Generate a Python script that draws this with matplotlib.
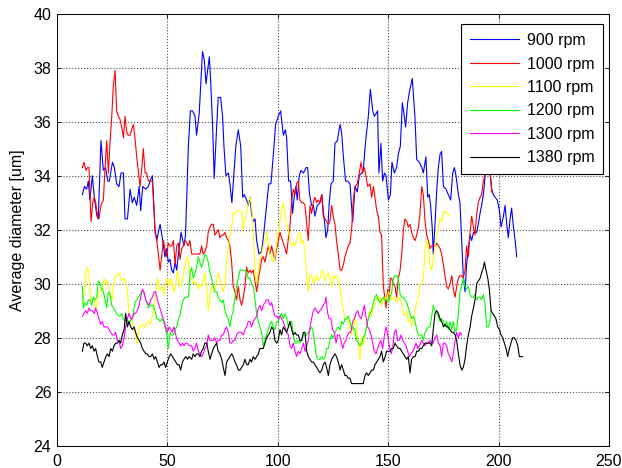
import matplotlib
matplotlib.use('Agg')
import matplotlib.pyplot as plt

# (x, diametro)
s900 = [(11.5,33.3),(12.4,33.6),(13.4,33.5),(14.2,33.8),(14.9,33.1),(16.0,34.0),(16.9,33.2),(18.1,32.5),(18.7,32.4),(19.9,35.3),(21.0,34.2),(22.0,34.3),(23.0,33.8),(23.7,33.8),(25.1,34.5),(26.0,34.3),(27.0,33.7),(28.1,33.6),(29.0,34.1),(30.1,34.1),(30.8,32.4),(31.9,32.4),(33.1,33.5),(34.1,33.0),(35.0,33.2),(36.1,32.9),(37.2,33.6),(37.9,32.7),(38.8,33.6),(40.2,33.5),(41.4,33.6),(42.1,33.8),(43.2,34.0),(44.4,32.0),(45.2,31.6),(45.9,31.9),(46.7,32.2),(47.7,31.7),(48.9,31.0),(49.7,31.3),(50.4,30.8),(51.2,30.9),(51.9,30.5),(52.7,30.4),(53.5,30.8),(54.2,30.5),(55.0,31.1),(56.2,31.9),(57.5,31.4),(58.2,31.8),(59.5,35.1),(60.4,36.4),(61.4,36.4),(62.5,36.2),(63.2,35.5),(64.4,36.3),(65.0,37.2),(65.9,38.6),(66.7,38.3),(67.5,37.4),(68.2,37.9),(69.0,38.4),(69.6,37.5),(70.5,35.8),(71.2,33.9),(72.3,35.8),(73.0,36.9),(74.1,36.9),(75.0,36.2),(75.6,35.1),(76.5,34.0),(77.6,34.1),(78.3,33.7),(79.2,33.0),(80.3,34.3),(81.0,35.1),(82.1,35.7),(83.2,35.1),(84.1,33.2),(84.8,33.3),(85.9,33.1),(86.6,32.9),(87.4,33.2),(88.1,32.6),(88.9,32.3),(89.7,32.4),(90.4,31.6),(91.5,31.1),(92.7,31.2),(93.7,31.9),(94.9,32.9),(95.9,33.7),(96.9,33.7),(98.0,34.8),(99.0,35.9),(100.2,36.2),(101.3,36.4),(102.5,35.5),(103.4,35.7),(104.0,35.4),(104.9,33.8),(105.8,33.8),(106.7,32.6),(107.5,33.3),(108.2,33.6),(108.8,33.1),(109.7,34.0),(110.5,34.2),(111.6,34.1),(112.8,34.3),(113.5,34.3),(114.4,33.3),(115.3,32.9),(116.1,32.9),(116.8,32.5),(117.9,32.9),(119.1,33.0),(119.9,33.3),(120.6,32.7),(121.4,32.1),(121.8,31.7),(122.6,32.0),(123.3,33.0),(124.1,33.7),(125.1,33.8),(125.9,35.2),(127.0,35.3),(128.2,35.9),(128.9,35.6),(129.7,34.7),(130.7,33.8),(131.6,33.8),(132.7,33.7),(133.9,32.3),(135.0,33.6),(136.0,33.4),(136.9,34.0),(138.0,34.1),(138.7,34.2),(139.8,35.3),(141.0,36.2),(141.9,37.2),(143.0,36.4),(143.7,36.2),(144.5,36.3),(145.2,36.4),(145.8,34.1),(146.7,35.2),(147.5,33.8),(148.3,34.1),(149.0,34.0),(150.1,33.1),(151.0,33.3),(151.7,34.5),(152.8,34.1),(153.8,34.3),(154.6,34.8),(155.5,35.1),(156.4,36.7),(157.3,36.2),(157.9,35.8),(158.8,36.7),(159.6,37.1),(160.9,37.6),(162.1,36.2),(162.9,34.6),(164.1,34.5),(165.2,34.3),(165.9,34.1),(167.1,34.7),(167.9,33.2),(168.6,33.3),(169.2,32.9),(170.0,32.0),(170.4,31.1),(171.2,32.2),(172.0,33.5),(172.7,34.3),(173.5,34.8),(174.2,34.9),(175.0,33.6),(176.2,33.5),(177.2,33.3),(178.3,33.1),(179.2,34.1),(180.0,34.3),(180.7,34.0),(181.8,33.3),(182.5,33.0),(183.3,31.6),(184.0,30.3),(184.8,29.7),(185.5,30.7),(186.3,31.3),(187.1,31.8),(187.8,31.6),(188.6,31.9),(189.3,31.9),(190.1,31.9),(190.8,32.2),(191.6,32.6),(192.3,32.9),(193.1,33.3),(193.9,34.0),(194.6,34.6),(195.4,34.8),(196.1,34.1),(196.9,33.5),(197.6,33.3),(198.4,33.2),(199.4,33.1),(200.4,32.7),(201.1,32.1),(202.2,32.5),(202.9,32.9),(203.7,32.2),(204.4,31.7),(205.2,32.4),(205.9,32.8),(206.7,32.1),(207.5,31.6),(208.2,31.0)]

s1000 = [(11.5,34.3),(12.2,34.5),(13.1,34.2),(13.9,34.3),(14.5,34.3),(15.4,32.3),(16.2,33.0),(16.9,33.2),(17.5,33.0),(18.4,32.5),(19.0,32.4),(19.9,32.9),(21.0,33.1),(21.7,34.2),(22.5,35.3),(23.3,34.1),(24.0,35.2),(24.8,36.2),(25.5,37.3),(26.3,37.9),(27.0,36.4),(27.8,36.2),(28.5,36.1),(29.3,35.8),(30.1,35.4),(30.8,36.2),(31.6,35.6),(32.3,35.5),(33.1,35.5),(33.8,35.7),(34.6,35.9),(35.3,35.4),(36.1,34.7),(36.9,34.1),(37.6,33.6),(38.4,34.3),(39.1,35.0),(39.9,34.1),(40.6,34.1),(41.4,33.8),(42.1,33.8),(43.2,33.8),(43.7,33.1),(44.4,31.9),(45.2,31.6),(45.9,31.1),(46.7,30.5),(47.4,31.0),(48.2,31.6),(48.9,31.3),(49.7,31.0),(50.4,31.5),(51.2,31.4),(52.0,31.4),(52.7,31.6),(53.5,30.7),(54.2,31.4),(55.0,31.5),(55.7,30.9),(56.5,31.3),(57.2,31.4),(58.0,31.6),(58.8,31.5),(59.5,31.4),(60.2,31.6),(61.0,31.1),(61.7,31.1),(62.9,31.1),(64.0,31.1),(64.7,31.1),(65.5,31.4),(66.2,31.1),(67.0,31.2),(67.8,31.4),(68.5,31.9),(69.3,32.1),(70.0,32.2),(70.8,32.2),(71.5,31.8),(72.3,31.9),(73.0,32.0),(73.8,31.7),(74.6,31.8),(75.3,31.8),(76.1,31.9),(76.8,31.7),(77.6,31.6),(78.3,31.4),(79.1,30.8),(79.8,29.9),(80.6,29.7),(81.3,29.4),(82.1,29.9),(82.9,29.4),(83.6,29.2),(84.4,29.5),(85.1,29.9),(85.9,30.6),(86.6,30.4),(87.4,30.5),(88.1,30.4),(88.9,30.5),(89.7,30.1),(90.4,29.7),(91.2,30.2),(91.9,30.5),(92.7,30.9),(93.4,31.0),(94.2,30.8),(94.9,31.1),(95.7,31.4),(96.5,31.1),(97.2,31.4),(98.0,31.1),(98.7,30.9),(99.5,31.3),(100.2,31.6),(101.0,31.9),(101.7,31.7),(102.5,31.5),(103.3,31.3),(104.0,31.1),(104.8,31.7),(105.5,32.1),(106.3,33.1),(107.0,33.5),(107.8,33.3),(108.5,33.7),(109.3,33.8),(110.0,33.1),(110.8,33.0),(111.6,33.0),(112.3,32.9),(113.1,32.2),(113.8,31.6),(114.6,32.9),(115.3,32.6),(116.1,33.0),(116.8,33.2),(117.6,33.0),(118.3,33.1),(119.1,33.0),(119.9,33.3),(120.6,32.5),(121.4,32.4),(122.1,32.3),(122.9,32.2),(123.6,32.3),(124.4,32.9),(125.1,32.5),(125.9,32.2),(126.6,31.6),(127.4,31.1),(128.2,30.5),(128.9,30.5),(129.7,30.7),(130.4,31.0),(131.2,31.2),(131.9,31.4),(132.7,31.5),(133.5,32.1),(134.2,33.1),(135.0,33.6),(136.0,33.7),(136.9,34.1),(137.7,34.5),(138.4,34.1),(139.2,34.3),(139.9,34.0),(140.7,33.6),(141.8,33.7),(142.5,33.2),(143.3,33.6),(144.0,33.2),(144.8,32.7),(145.5,32.5),(146.3,31.9),(147.0,31.8),(147.8,29.9),(148.6,29.4),(149.0,29.1),(149.8,29.8),(150.4,29.5),(151.0,30.2),(151.6,30.2),(152.3,30.0),(153.1,29.9),(153.8,29.5),(154.6,30.2),(155.4,30.5),(156.1,31.1),(156.9,32.0),(157.6,32.4),(158.4,32.3),(159.1,32.1),(159.9,32.2),(160.6,31.9),(161.4,31.7),(162.2,31.6),(162.9,31.8),(163.7,32.1),(164.4,32.6),(165.2,33.6),(165.9,33.3),(166.7,32.3),(167.4,31.8),(168.2,31.6),(169.0,31.3),(169.7,31.4),(170.4,31.4),(171.2,31.4),(172.0,31.5),(172.7,31.4),(173.5,31.3),(174.2,31.1),(175.0,30.7),(175.7,30.3),(176.5,29.9),(177.2,29.8),(178.0,30.0),(178.8,30.3),(179.5,29.8),(180.3,29.5),(181.0,29.9),(181.8,30.2),(182.5,30.3),(183.3,30.3),(184.0,30.2),(184.8,30.5),(185.5,31.4),(186.3,31.0),(187.1,31.9),(187.8,32.5),(188.6,32.1),(189.3,31.8),(190.1,32.6),(190.8,33.0),(191.6,33.2),(192.3,33.3),(193.1,33.8),(193.9,34.1),(194.6,34.6),(195.4,34.8),(196.1,34.2),(196.9,33.4)]

s1100 = [(11.5,29.3),(12.4,29.7),(13.0,30.4),(13.7,30.6),(14.5,30.4),(15.3,29.4),(16.0,29.4),(16.8,29.4),(17.5,29.0),(18.3,29.3),(19.0,29.6),(19.8,29.8),(20.5,29.7),(21.3,30.2),(22.1,30.0),(22.8,30.1),(23.6,29.7),(24.3,29.6),(25.1,29.4),(25.8,30.0),(26.6,30.3),(27.3,30.3),(28.1,30.4),(28.8,30.2),(29.6,30.1),(30.4,30.2),(31.1,30.0),(31.9,29.7),(32.6,28.9),(33.4,28.8),(34.1,28.6),(34.9,28.3),(35.6,28.1),(36.4,27.8),(37.2,28.4),(37.9,28.4),(38.7,28.5),(39.4,28.4),(40.2,28.4),(40.9,28.6),(41.7,28.6),(42.4,28.5),(43.2,28.8),(44.0,29.2),(44.7,29.7),(45.5,30.2),(46.2,29.8),(47.0,29.8),(47.7,29.9),(48.5,29.6),(49.2,30.0),(50.0,30.2),(50.8,29.9),(51.5,30.2),(52.3,29.9),(53.0,29.7),(53.8,30.0),(54.5,30.5),(55.3,30.0),(56.0,29.9),(56.8,30.1),(57.5,30.5),(58.3,30.8),(59.1,31.0),(59.8,30.6),(60.2,30.2),(61.0,30.2),(61.7,30.0),(62.5,30.1),(63.2,29.9),(64.0,29.8),(64.7,30.0),(65.5,29.9),(66.2,30.1),(67.0,30.4),(67.8,29.8),(68.5,29.0),(69.3,29.5),(70.0,29.9),(70.8,30.0),(71.5,29.7),(72.3,30.1),(73.0,30.4),(73.8,30.2),(74.6,29.9),(75.3,29.7),(76.1,30.0),(76.8,30.8),(77.6,31.3),(78.3,31.8),(79.1,32.1),(79.8,32.6),(80.6,32.6),(81.3,32.7),(82.1,32.7),(82.9,32.7),(83.6,32.7),(84.4,32.0),(85.1,32.4),(85.9,32.6),(86.6,33.0),(87.4,33.2),(88.1,32.9),(88.9,32.1),(89.7,30.3),(90.4,30.0),(91.2,30.5),(91.9,30.9),(92.7,31.1),(93.4,31.4),(94.2,31.6),(94.9,31.9),(95.7,31.5),(96.5,31.1),(97.2,30.9),(98.0,30.8),(98.7,31.0),(99.5,31.5),(100.2,31.9),(101.7,32.7),(102.5,33.0),(103.3,32.6),(104.0,32.1),(104.8,32.0),(105.5,31.6),(106.3,31.4),(107.0,31.5),(107.8,31.4),(108.5,31.6),(109.3,31.8),(110.0,31.9),(110.8,31.5),(111.6,31.6),(112.3,31.1),(113.1,30.3),(113.8,29.7),(114.6,30.3),(115.3,30.3),(116.1,30.0),(116.8,30.2),(117.6,30.3),(118.3,30.1),(119.1,30.2),(119.9,30.5),(120.6,30.4),(121.4,30.1),(122.1,30.3),(122.9,30.4),(123.6,30.2),(124.4,29.9),(125.1,30.3),(125.9,30.2),(126.6,30.3),(127.4,30.1),(128.2,29.8),(128.9,29.4),(129.7,29.0),(130.4,28.7),(131.2,28.7),(131.9,28.6),(132.7,28.3),(133.4,28.1),(134.2,28.4),(135.0,28.8),(135.7,28.2),(136.5,27.8),(137.2,27.2),(138.0,28.1),(138.7,27.7),(139.5,28.1),(140.2,28.4),(141.0,28.8),(141.8,29.0),(142.5,28.8),(143.3,29.1),(144.0,29.2),(144.8,29.5),(145.5,29.4),(146.3,29.5),(147.0,29.2),(147.8,29.4),(148.6,29.5),(149.3,29.4),(150.1,29.7),(150.8,29.6),(151.6,29.4),(152.3,29.5),(153.1,29.5),(153.8,29.3),(154.6,29.5),(155.4,29.4),(156.1,29.3),(156.9,28.9),(157.6,28.8),(158.4,29.0),(159.1,28.6),(159.9,28.7),(160.6,28.4),(161.4,28.7),(162.2,29.0),(162.9,29.3),(163.7,29.5),(164.4,30.0),(165.2,30.0),(165.9,30.2),(166.7,31.3),(167.4,31.6),(168.2,31.3),(168.9,30.7),(169.7,30.5),(170.4,30.9),(171.2,31.4),(172.0,31.8),(172.7,32.1),(173.5,32.4),(174.2,32.3),(175.0,32.6),(175.7,32.7),(176.5,32.6),(177.2,32.6),(178.0,32.5)]

s1200 = [(11.5,29.9),(11.9,29.1),(12.7,29.3),(13.4,29.2),(14.2,29.4),(14.9,29.4),(15.7,29.2),(16.5,29.5),(17.2,29.4),(18.0,29.5),(18.7,30.1),(19.5,30.0),(20.2,29.8),(21.0,29.7),(21.8,29.4),(22.5,29.1),(23.3,29.7),(24.0,29.6),(24.8,29.2),(25.5,29.1),(26.3,29.0),(27.0,28.9),(27.8,28.8),(28.5,28.8),(29.3,28.9),(30.1,28.7),(30.8,28.6),(31.6,28.7),(32.3,28.6),(33.1,28.6),(33.8,28.7),(34.6,28.9),(35.3,29.3),(36.1,29.4),(36.9,29.5),(37.6,29.6),(38.4,29.7),(39.1,29.7),(39.9,29.5),(40.6,29.3),(41.4,29.1),(42.1,29.2),(42.9,29.2),(43.6,29.2),(44.4,29.0),(45.2,28.7),(45.9,28.7),(46.7,28.6),(47.4,28.7),(48.2,28.6),(48.9,28.4),(49.7,28.1),(50.4,27.6),(51.2,28.2),(52.0,28.1),(52.7,28.1),(53.5,28.3),(54.2,28.4),(55.0,28.7),(55.7,28.8),(56.5,29.2),(57.2,29.4),(58.0,29.5),(58.8,29.5),(59.5,29.5),(60.3,30.4),(61.0,30.6),(61.7,30.2),(62.5,30.4),(63.2,30.6),(64.0,31.0),(64.7,30.8),(65.5,30.6),(66.2,30.8),(67.0,31.1),(67.8,31.0),(68.5,30.8),(69.3,30.4),(70.0,30.2),(70.8,29.9),(71.5,29.7),(72.3,29.7),(73.0,29.5),(73.8,29.4),(74.6,29.3),(75.3,29.4),(76.1,29.0),(76.8,28.8),(77.6,28.7),(78.3,28.4),(79.1,28.8),(79.8,29.0),(80.6,29.5),(81.3,29.9),(82.1,30.2),(82.9,30.5),(83.6,30.5),(84.4,30.5),(85.1,30.5),(85.9,30.4),(86.6,30.2),(87.4,30.2),(88.1,30.0),(88.9,29.9),(89.7,29.4),(90.4,28.9),(91.2,28.6),(91.9,28.4),(92.7,28.2),(93.4,27.7),(94.2,27.9),(94.9,28.1),(95.7,28.3),(96.5,28.5),(97.2,28.6),(98.0,28.4),(98.7,28.3),(99.5,28.6),(100.2,28.6),(101.0,28.8),(101.7,28.9),(102.5,28.7),(103.3,28.9),(104.0,28.7),(104.8,28.4),(105.5,28.6),(106.3,28.6),(107.0,28.1),(107.8,27.8),(108.5,27.8),(109.3,27.9),(110.0,27.8),(110.8,27.9),(111.6,28.1),(112.3,28.1),(113.1,28.1),(113.8,28.2),(114.6,28.3),(115.3,28.4),(116.1,28.2),(116.8,27.7),(117.6,27.3),(118.3,27.2),(119.1,27.2),(119.9,27.3),(120.6,27.2),(121.4,27.3),(122.1,27.6),(122.9,27.6),(123.6,27.9),(124.4,28.1),(125.1,28.0),(125.9,28.2),(126.6,28.3),(127.4,28.4),(128.2,28.3),(128.9,28.6),(129.7,28.5),(130.4,28.7),(131.2,28.7),(131.9,28.8),(132.7,28.6),(133.4,28.3),(134.2,28.4),(135.0,28.2),(135.7,27.9),(136.5,27.8),(137.2,27.7),(138.0,27.8),(138.7,28.0),(139.5,28.1),(140.2,28.4),(141.0,28.7),(141.8,28.9),(142.5,29.0),(143.3,29.3),(144.0,29.5),(144.8,29.6),(145.5,29.4),(146.3,29.3),(147.0,29.4),(147.8,29.5),(148.6,29.4),(149.3,29.4),(150.1,29.3),(150.8,29.5),(151.6,29.7),(152.3,30.2),(153.1,30.3),(153.8,30.3),(154.6,30.2),(155.4,29.6),(156.1,29.5),(156.9,29.5),(157.6,29.4),(158.4,29.3),(159.1,29.1),(159.9,28.9),(160.6,28.7),(161.4,28.8),(162.2,28.6),(162.9,28.3),(163.7,28.1),(164.4,28.1),(165.2,28.1),(165.9,27.9),(166.7,28.2),(167.4,28.3),(168.2,28.4),(168.9,28.4),(169.7,28.8),(170.4,29.2),(171.2,29.0),(172.0,28.9),(172.7,28.8),(173.5,28.6),(174.2,28.7),(175.0,28.6),(175.7,28.4),(176.5,28.6),(177.2,28.3),(178.0,28.6),(178.8,28.3),(179.5,28.6),(180.3,28.2),(181.0,28.3),(181.8,28.9),(182.5,29.7),(183.3,29.9),(184.0,30.2),(184.8,29.9),(185.5,29.8),(186.3,29.9),(187.1,29.6),(187.8,29.5),(188.6,29.5),(189.3,29.6),(190.1,29.4),(190.8,29.5),(191.6,29.5),(192.3,29.4),(193.1,29.6),(193.9,29.2),(194.6,28.4),(195.4,28.4),(196.1,28.6),(196.6,29.0)]

s1300 = [(11.5,28.8),(12.2,28.9),(13.0,29.0),(13.7,28.9),(14.5,29.1),(15.3,29.0),(16.0,29.0),(16.8,28.9),(17.5,29.1),(18.3,28.9),(19.0,28.7),(19.8,28.5),(20.5,28.6),(21.3,28.4),(22.1,28.4),(22.8,28.4),(23.6,28.3),(24.3,28.2),(25.1,28.1),(25.8,28.1),(26.6,28.2),(27.3,27.9),(28.1,27.9),(28.8,27.6),(29.6,27.7),(30.4,28.0),(31.1,28.4),(31.9,28.7),(32.6,28.9),(33.4,28.7),(34.1,28.7),(34.9,28.9),(35.6,28.9),(36.4,29.0),(37.2,29.2),(37.9,29.5),(38.7,29.8),(39.4,29.7),(40.2,29.4),(40.9,29.3),(41.7,29.2),(42.4,29.4),(43.2,29.5),(44.0,29.7),(44.7,29.7),(45.5,29.4),(46.2,29.2),(47.0,29.0),(47.7,28.8),(48.5,28.6),(49.2,28.4),(50.0,28.2),(50.8,28.4),(51.5,28.3),(52.3,28.2),(53.0,28.4),(53.8,28.1),(54.5,27.9),(55.3,27.8),(56.0,27.7),(56.8,27.8),(57.5,27.7),(58.3,27.8),(59.0,27.8),(59.8,27.7),(61.0,27.7),(61.7,27.5),(62.5,27.6),(63.2,27.8),(64.0,27.5),(64.7,27.4),(65.5,27.3),(66.2,27.4),(67.0,27.6),(67.8,27.7),(68.5,28.1),(69.3,27.9),(70.0,27.9),(70.8,27.9),(71.5,28.0),(72.3,27.8),(73.0,27.9),(73.8,27.9),(74.6,28.1),(75.3,28.1),(76.1,28.3),(76.8,28.4),(77.6,28.2),(78.3,27.8),(79.1,27.8),(79.8,27.9),(80.6,27.9),(81.3,28.1),(82.1,28.2),(82.9,28.2),(83.6,28.2),(84.4,28.1),(85.1,28.3),(85.9,28.4),(86.6,28.6),(87.4,28.6),(88.1,28.4),(88.9,28.6),(89.7,28.7),(90.4,28.8),(91.2,29.1),(91.9,29.2),(92.7,29.0),(93.4,29.2),(94.2,29.3),(94.9,29.4),(95.7,29.4),(96.5,29.2),(97.2,29.3),(98.0,29.0),(98.7,28.8),(99.5,28.8),(100.2,28.7),(101.0,28.8),(101.7,28.7),(102.5,28.6),(103.3,28.4),(104.0,28.2),(104.8,28.1),(105.5,27.7),(106.3,27.6),(107.0,27.8),(107.8,27.5),(108.5,27.3),(109.3,27.5),(110.0,27.4),(110.8,27.6),(111.6,27.8),(112.3,27.5),(113.1,27.7),(113.8,27.9),(114.6,28.4),(115.3,28.7),(116.1,29.0),(116.8,29.1),(117.6,29.0),(118.3,28.9),(119.1,29.0),(119.9,29.1),(120.6,29.2),(121.4,29.3),(121.8,29.5),(122.6,28.9),(123.3,28.7),(124.1,28.7),(124.8,28.3),(125.6,28.2),(126.4,27.8),(127.1,28.1),(127.9,28.1),(128.6,27.9),(129.4,27.6),(130.1,27.8),(130.9,27.9),(131.6,28.1),(132.4,28.2),(133.1,28.2),(133.9,28.6),(134.7,28.7),(135.4,28.9),(136.2,29.0),(136.9,28.8),(137.7,28.7),(138.4,28.9),(139.2,29.2),(139.9,28.8),(140.7,28.4),(141.5,28.3),(142.2,28.1),(143.0,27.8),(143.7,27.5),(144.5,27.4),(145.2,27.6),(146.0,27.8),(146.7,27.9),(147.5,27.6),(148.3,28.1),(149.0,28.4),(149.8,28.1),(150.5,27.7),(151.3,27.4),(152.0,27.6),(152.8,28.2),(153.5,28.3),(154.3,27.9),(155.1,27.9),(155.8,28.1),(156.6,27.9),(157.3,27.8),(158.1,27.7),(158.8,27.5),(159.6,27.3),(160.3,27.4),(161.1,27.5),(161.8,27.6),(162.6,27.8),(163.4,27.6),(164.1,27.7),(165.2,27.9),(165.9,27.8),(166.7,27.7),(167.4,27.8),(168.2,27.8),(168.9,27.9),(169.7,27.8),(170.4,27.8),(171.2,28.0),(172.0,28.1),(172.7,27.8),(173.5,27.7),(174.2,27.3),(175.0,27.8),(175.7,27.8),(176.5,27.7),(177.2,27.4),(178.0,27.3),(178.8,27.1),(179.5,27.4),(180.3,27.9),(181.0,28.2),(181.8,28.0),(182.5,28.2),(183.3,28.1)]

s1380 = [(11.5,27.5),(12.2,27.8),(13.0,27.8),(13.7,27.7),(14.5,27.8),(15.3,27.6),(16.0,27.7),(16.8,27.5),(17.5,27.6),(18.3,27.3),(19.0,27.1),(19.8,27.1),(20.5,26.9),(21.3,27.1),(22.1,27.3),(22.8,27.4),(23.6,27.3),(24.3,27.6),(25.1,27.5),(25.8,27.7),(26.6,27.8),(27.3,27.8),(28.1,27.9),(28.8,27.8),(29.6,28.1),(30.4,28.3),(31.1,28.9),(31.9,28.4),(32.6,28.6),(33.4,28.4),(34.1,28.3),(34.9,28.4),(35.6,28.2),(36.4,28.0),(37.2,27.9),(37.9,27.8),(38.7,27.6),(39.4,27.5),(40.2,27.4),(40.9,27.4),(41.7,27.3),(42.4,27.3),(43.2,27.4),(44.0,27.2),(44.7,27.3),(45.5,27.1),(46.2,26.9),(47.0,27.0),(47.7,27.0),(48.5,27.1),(49.2,26.9),(50.0,27.1),(50.8,27.3),(51.5,27.4),(52.3,27.3),(53.0,27.2),(53.8,27.1),(54.5,27.0),(55.3,27.0),(56.0,26.8),(56.8,27.1),(57.5,27.2),(58.3,27.3),(59.1,27.2),(59.8,27.3),(61.0,27.2),(61.7,27.4),(62.5,27.3),(63.2,27.4),(64.0,27.4),(64.7,27.3),(65.5,27.5),(66.2,27.6),(67.0,27.8),(67.8,27.8),(68.5,27.5),(69.3,27.2),(70.0,27.4),(70.8,27.6),(71.5,27.7),(72.3,27.8),(73.0,27.5),(73.8,27.4),(74.6,27.2),(75.3,26.9),(76.1,26.6),(76.8,27.1),(77.6,27.2),(78.3,27.3),(79.1,27.4),(79.8,27.3),(80.6,27.1),(81.3,27.0),(82.1,26.8),(82.9,26.8),(83.6,26.9),(84.4,27.0),(85.1,27.2),(85.9,27.0),(86.6,27.0),(87.4,27.2),(88.1,27.1),(88.9,27.3),(89.7,27.2),(90.4,27.3),(91.2,27.4),(91.9,27.6),(92.7,27.6),(93.4,27.6),(94.2,27.8),(94.9,28.0),(95.7,28.1),(96.5,28.2),(97.2,28.4),(98.0,28.3),(98.7,27.9),(99.5,27.8),(100.2,27.9),(101.0,28.3),(101.7,28.1),(102.5,28.4),(103.3,28.3),(104.0,28.2),(104.8,28.4),(105.5,28.6),(106.3,28.3),(107.0,28.1),(107.8,28.2),(108.5,28.1),(109.3,28.1),(110.0,27.9),(110.8,27.9),(111.6,28.2),(112.3,28.2),(113.1,27.5),(113.8,27.3),(114.6,27.2),(115.3,27.1),(116.1,27.1),(116.8,27.0),(117.6,26.9),(118.3,26.8),(119.1,26.7),(119.9,26.8),(120.6,27.0),(121.4,27.1),(122.1,26.9),(122.9,26.6),(123.6,27.0),(124.4,27.2),(125.1,27.3),(125.9,27.4),(126.6,27.3),(127.4,27.1),(128.2,26.8),(128.9,27.0),(129.7,26.8),(130.4,26.6),(131.2,26.6),(131.9,26.5),(132.7,26.5),(133.4,26.3),(134.2,26.3),(135.0,26.3),(135.7,26.3),(136.5,26.3),(137.2,26.3),(138.0,26.3),(138.7,26.3),(139.5,26.6),(140.2,26.7),(141.0,26.6),(141.8,26.7),(142.5,26.8),(143.3,26.8),(144.0,27.0),(144.8,27.1),(145.5,27.2),(146.3,27.3),(147.0,27.5),(147.8,27.1),(148.6,27.3),(149.3,27.5),(150.1,27.5),(150.8,27.5),(151.6,27.6),(152.3,27.6),(153.1,27.8),(153.8,27.7),(154.6,27.6),(155.4,27.6),(156.1,27.5),(156.9,27.4),(157.6,27.3),(158.4,27.2),(159.1,27.3),(159.9,26.7),(160.6,27.2),(161.4,27.3),(162.2,27.3),(162.9,27.5),(163.7,27.5),(164.4,27.6),(165.2,27.6),(165.9,27.7),(166.7,27.8),(167.4,27.8),(168.2,27.8),(168.9,27.8),(169.7,27.7),(170.4,28.3),(171.2,28.9),(172.0,29.0),(172.7,28.9),(173.5,28.7),(174.2,28.6),(175.0,28.4),(175.7,28.5),(176.5,28.4),(177.2,28.4),(178.0,28.3),(178.8,28.2),(179.5,28.2),(180.3,28.1),(181.0,27.9),(181.8,27.4),(182.5,27.0),(183.3,26.8),(184.0,26.9),(184.8,27.2),(185.5,27.7),(186.3,28.1),(187.1,28.4),(187.8,28.8),(188.6,29.1),(189.3,29.4),(190.1,30.0),(190.8,30.1),(191.6,30.2),(192.3,30.4),(193.1,30.6),(193.6,30.8),(194.3,30.5),(195.1,30.2),(195.8,29.8),(196.6,29.0),(197.3,28.9),(198.1,28.8),(198.8,28.7),(199.6,28.4),(200.4,28.3),(201.1,28.1),(201.9,28.0),(202.6,27.8),(203.4,27.6),(204.1,27.3),(204.9,27.6),(205.6,27.8),(206.4,28.0),(207.1,28.0),(207.9,27.9),(208.7,27.7),(209.4,27.3),(210.2,27.3),(210.9,27.3)]

series = [s900, s1000, s1100, s1200, s1300, s1380]
labels = ['900 rpm', '1000 rpm', '1100 rpm', '1200 rpm', '1300 rpm', '1380 rpm']
colors = ['#0000ff', '#ff0000', '#ffff00', '#00ff00', '#ff00ff', '#000000']
x_ticks = [0, 50, 100, 150, 200, 250]
y_ticks = [24, 26, 28, 30, 32, 34, 36, 38, 40]

plt.rcParams['font.family'] = ['Liberation Sans', 'DejaVu Sans']
plt.rcParams['font.size'] = 11.5

fig = plt.figure(figsize=(6.22, 4.68), dpi=100)
ax = fig.add_axes([57 / 622, 1 - 445.7 / 468, 552 / 622, 432 / 468])

for datos, lab, col in zip(series, labels, colors):
    xs = [p[0] for p in datos]
    ys = [p[1] for p in datos]
    ax.plot(xs, ys, color=col, linewidth=0.8, label=lab)

ax.set_xlim(0, 250)
ax.set_ylim(24, 40)
ax.set_xticks(x_ticks)
ax.set_yticks(y_ticks)
ax.set_ylabel('Average diameter [um]', labelpad=6)
ax.grid(True, color='0.3', linestyle=':', linewidth=0.8)
ax.tick_params(direction='in', length=3, top=True, right=True, width=0.6)
ax.tick_params(axis='x', pad=6)
ax.tick_params(axis='y', pad=4)
for sp in ax.spines.values():
    sp.set_linewidth(0.7)

leg = ax.legend(loc='upper right', bbox_to_anchor=(0.989, 0.9755), borderaxespad=0,
                fancybox=False, edgecolor='black', framealpha=1,
                handlelength=3.1, handletextpad=0.45, labelspacing=0.53,
                borderpad=0.55)
leg.get_frame().set_linewidth(0.8)

fig.savefig('out.png', dpi=100)
